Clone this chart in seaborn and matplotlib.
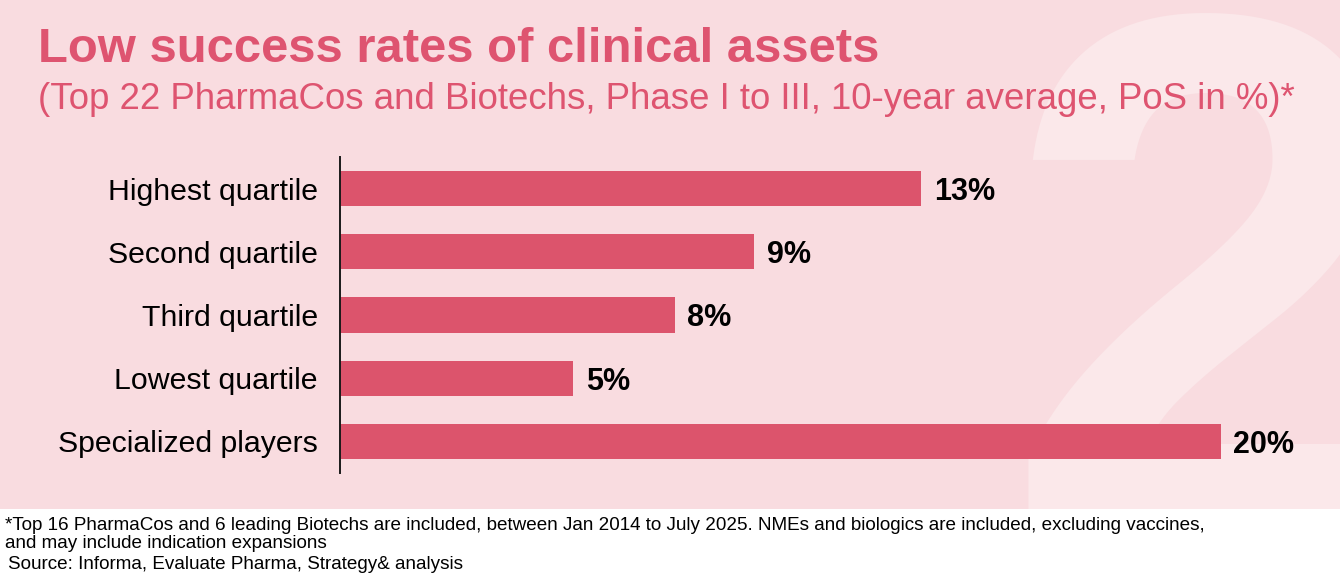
import matplotlib
matplotlib.use("Agg")
import matplotlib.pyplot as plt
import matplotlib.patches as mpatches
import seaborn as sns
import pandas as pd

# values (PoS in %)
categories = ["Highest quartile", "Second quartile", "Third quartile",
              "Lowest quartile", "Specialized players"]
pos_values = [13.2, 9.4, 7.6, 5.3, 20.0]

title = "Low success rates of clinical assets"
subtitle = "(Top 22 PharmaCos and Biotechs, Phase I to III, 10-year average, PoS in %)*"
footnote_lines = ["*Top 16 PharmaCos and 6 leading Biotechs are included, between Jan 2014 to July 2025. "
                  "NMEs and biologics are included, excluding vaccines,",
                  "and may include indication expansions"]
source = "Source: Informa, Evaluate Pharma, Strategy& analysis"

df = pd.DataFrame({"group": categories, "pos": pos_values})

PANEL = "#F9DCE0"
BIG2 = "#FBE8EA"
BAR = "#DC546C"
ACCENT = "#DE5470"

sns.set_theme(style="white")
plt.rcParams["font.family"] = ["Liberation Sans", "DejaVu Sans"]

W, H = 1340, 585
fig = plt.figure(figsize=(W / 100, H / 100), dpi=100)
fig.patch.set_facecolor("white")

# pink panel behind the chart
panel = mpatches.Rectangle((0, 1 - 509 / H), 1, 509 / H, transform=fig.transFigure,
                           facecolor=PANEL, edgecolor="none", zorder=-3)
fig.patches.append(panel)

# big faded "2" in the background
big = fig.text(1003 / W, 1 - 527 / H, "2", fontsize=530, fontweight="bold",
               color=BIG2, ha="left", va="baseline", zorder=-2)
big.set_clip_path(panel)

ax = fig.add_axes([340 / W, 1 - 473 / H, 960 / W, 316 / H])
ax.set_zorder(1)
ax.set_facecolor("none")
sns.barplot(data=df, x="pos", y="group", orient="h", color=BAR, width=0.555,
            saturation=1, linewidth=0, ax=ax)
ax.set_xlim(0, 960 / 44.05)
ax.set_ylim(4.5, -0.5)
ax.set_xlabel("")
ax.set_ylabel("")
ax.set_xticks([])
for side in ["top", "right", "bottom"]:
    ax.spines[side].set_visible(False)
ax.spines["left"].set_color("#1a1a1a")
ax.spines["left"].set_linewidth(1.4)
ax.tick_params(axis="y", length=0, pad=16, labelsize=21.8, labelcolor="black")

for i, v in enumerate(pos_values):
    ax.annotate(f"{v:.0f}%", (v, i), xytext=(9, 0), textcoords="offset points",
                ha="left", va="center_baseline", fontsize=22, fontweight="bold",
                color="black")

fig.text(38 / W, 1 - 62 / H, title, fontsize=35.3, fontweight="bold", color=ACCENT,
         ha="left", va="baseline")
fig.text(38 / W, 1 - 109 / H, subtitle, fontsize=26.4, color=ACCENT,
         ha="left", va="baseline")

for k, line in enumerate(footnote_lines):
    fig.text(5 / W, 1 - (530 + 18 * k) / H, line, fontsize=13.55, color="black",
             ha="left", va="baseline")
fig.text(8 / W, 1 - 569 / H, source, fontsize=13.55, color="black", ha="left",
         va="baseline")

fig.savefig("out.png", dpi=100)
